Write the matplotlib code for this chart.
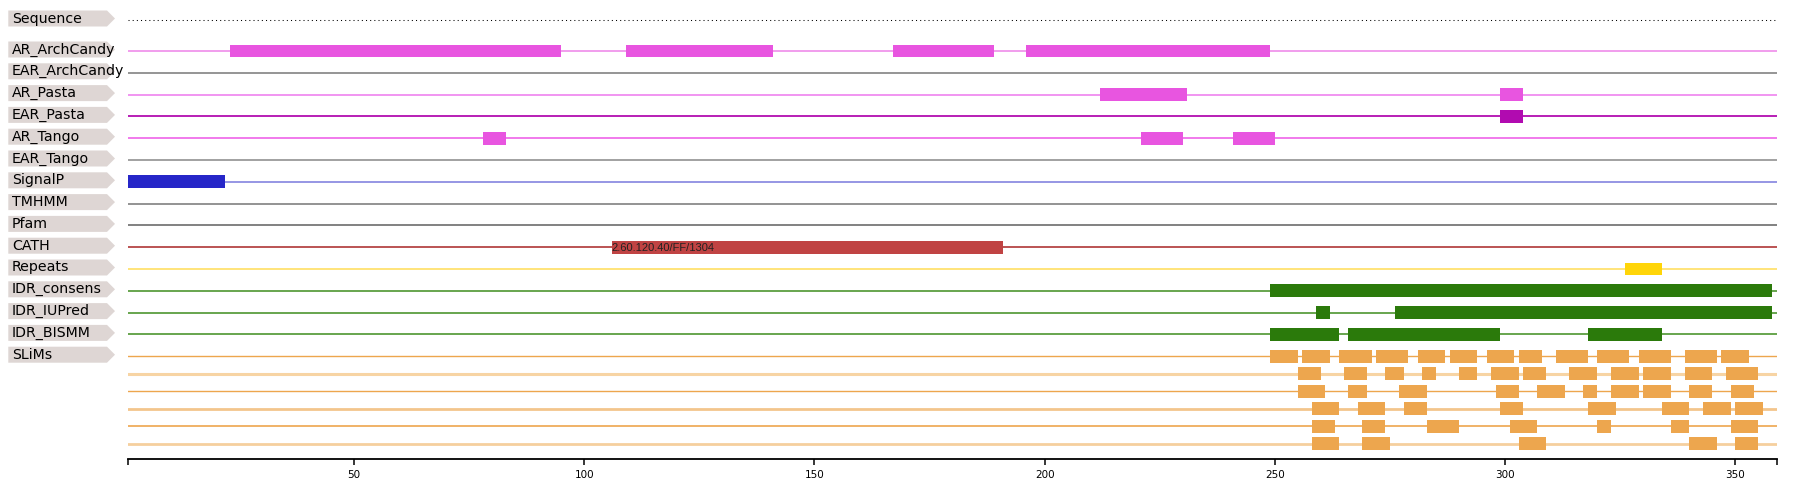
import matplotlib
matplotlib.use('Agg')
import matplotlib.pyplot as plt
from matplotlib.patches import Polygon

# sequence length / axis domain
seq_start = 1
seq_end = 359

track_names = ['AR_ArchCandy', 'EAR_ArchCandy', 'AR_Pasta', 'EAR_Pasta', 'AR_Tango',
               'EAR_Tango', 'SignalP', 'TMHMM', 'Pfam', 'CATH', 'Repeats',
               'IDR_consens', 'IDR_IUPred', 'IDR_BISMM', 'SLiMs']

ar_archcandy = [(23, 95), (109, 141), (167, 189), (196, 249)]
ear_archcandy = []
ar_pasta = [(212, 231), (299, 304)]
ear_pasta = [(299, 304)]
ar_tango = [(78, 83), (221, 230), (241, 250)]
ear_tango = []
signalp = [(1, 22)]
tmhmm = []
pfam = []
cath = [(106, 191)]
cath_labels = ['2.60.120.40/FF/1304']
repeats = [(326, 334)]
idr_consens = [(249, 358)]
idr_iupred = [(259, 262), (276, 358)]
idr_bismm = [(249, 264), (266, 299), (318, 334)]

slims_rows = [
    [(249, 255), (256, 262), (264, 271), (272, 279), (281, 287), (288, 294), (296, 302),
     (303, 308), (311, 318), (320, 327), (329, 336), (339, 346), (347, 353)],
    [(255, 260), (265, 270), (274, 278), (282, 285), (290, 294), (297, 303), (304, 309),
     (314, 320), (323, 329), (330, 336), (339, 345), (348, 355)],
    [(255, 261), (266, 270), (277, 283), (298, 303), (307, 313), (317, 320), (323, 329),
     (330, 336), (340, 345), (349, 354)],
    [(258, 264), (268, 274), (278, 283), (299, 304), (318, 324), (334, 340), (343, 349),
     (350, 356)],
    [(258, 263), (269, 274), (283, 290), (301, 307), (320, 323), (336, 340), (349, 355)],
    [(258, 264), (269, 275), (303, 309), (340, 346), (350, 355)],
]

x_ticks = [50, 100, 150, 200, 250, 300, 350]

track_data = [ar_archcandy, ear_archcandy, ar_pasta, ear_pasta, ar_tango, ear_tango,
              signalp, tmhmm, pfam, cath, repeats, idr_consens, idr_iupred, idr_bismm]
line_cols = ['#f095ec', '#8c8c8c', '#f08cf0', '#b20db0', '#f070ea', '#9a9a9a',
             '#8e8ee2', '#8a8a8a', '#777777', '#b54545', '#ffe270', '#5c9e40',
             '#5c9e40', '#5c9e40']
bar_cols = ['#e855e0', '#888888', '#e855e0', '#b10bb0', '#e855e0', '#999999',
            '#2626c8', '#888888', '#777777', '#c04343', '#ffd508', '#2b7a0b',
            '#2b7a0b', '#2b7a0b']
slim_bar = '#eda64e'
slim_line_cols = ['#eda64e', '#f7d4a4', '#eda64e', '#f3c58c', '#eda64e', '#f5cf9e']
slim_line_w = [1.0, 2.2, 1.0, 2.0, 1.2, 2.0]

W, H = 1797, 491
fig = plt.figure(figsize=(W / 100, H / 100), dpi=100)

# pixel layout
left_px, right_px = 128.3, 1776.7
axis_y = 459.3
seq_y = 20
track_y0, track_dy = 51, 21.8
slim_dy = 17.5
bar_h = 12.7

# overlay in pixel coordinates for the label tags
lab = fig.add_axes([0, 0, 1, 1])
lab.set_xlim(0, W)
lab.set_ylim(H, 0)
lab.axis('off')

ax = fig.add_axes([left_px / W, (H - axis_y) / H, (right_px - left_px) / W, axis_y / H])
ax.set_xlim(seq_start, seq_end)
ax.set_ylim(axis_y, 0)
ax.patch.set_alpha(0)
for s in ['top', 'left', 'right']:
    ax.spines[s].set_visible(False)
ax.spines['bottom'].set_linewidth(1.3)
ax.set_yticks([])
ax.set_xticks(x_ticks)
ax.set_xticks([seq_start, seq_end], minor=True)
ax.tick_params(axis='x', which='both', length=4.5, width=1.1, direction='out',
               labelsize=7.5, pad=3, colors='black')


def tag(y, text):
    cy = y - 1.5
    pts = [(8.3, cy - 8), (107, cy - 8), (115, cy), (107, cy + 8), (8.3, cy + 8)]
    lab.add_patch(Polygon(pts, closed=True, facecolor='#ded6d4', edgecolor='none'))
    lab.text(12, cy, text, fontsize=10.2, va='center', ha='left', color='black',
             family='DejaVu Sans')


# sequence row
tag(seq_y, 'Sequence')
ax.plot([seq_start, seq_end], [seq_y, seq_y], color='black', lw=0.75,
        linestyle=(0, (1, 3)))

# feature tracks
ys = [track_y0 + i * track_dy for i in range(len(track_names))]
for i, name in enumerate(track_names):
    tag(ys[i], name)
for i, feats in enumerate(track_data):
    y = ys[i]
    ax.plot([seq_start, seq_end], [y, y], color=line_cols[i], lw=1.3, zorder=1)
    if feats:
        ax.barh([y] * len(feats), [e - s for s, e in feats], left=[s for s, e in feats],
                height=bar_h, color=bar_cols[i], zorder=2)

# CATH label
ci = track_names.index('CATH')
for (s, e), t in zip(cath, cath_labels):
    ax.text(s, ys[ci] + 0.5, t, fontsize=8, va='center', ha='left', color='#222222',
            family='Liberation Sans', zorder=3)

# SLiMs rows
for j, row in enumerate(slims_rows):
    y = ys[-1] + j * slim_dy
    ax.plot([seq_start, seq_end], [y, y], color=slim_line_cols[j], lw=slim_line_w[j], zorder=1)
    ax.barh([y] * len(row), [e - s for s, e in row], left=[s for s, e in row],
            height=bar_h, color=slim_bar, zorder=2)

fig.savefig('out.png', dpi=100)
